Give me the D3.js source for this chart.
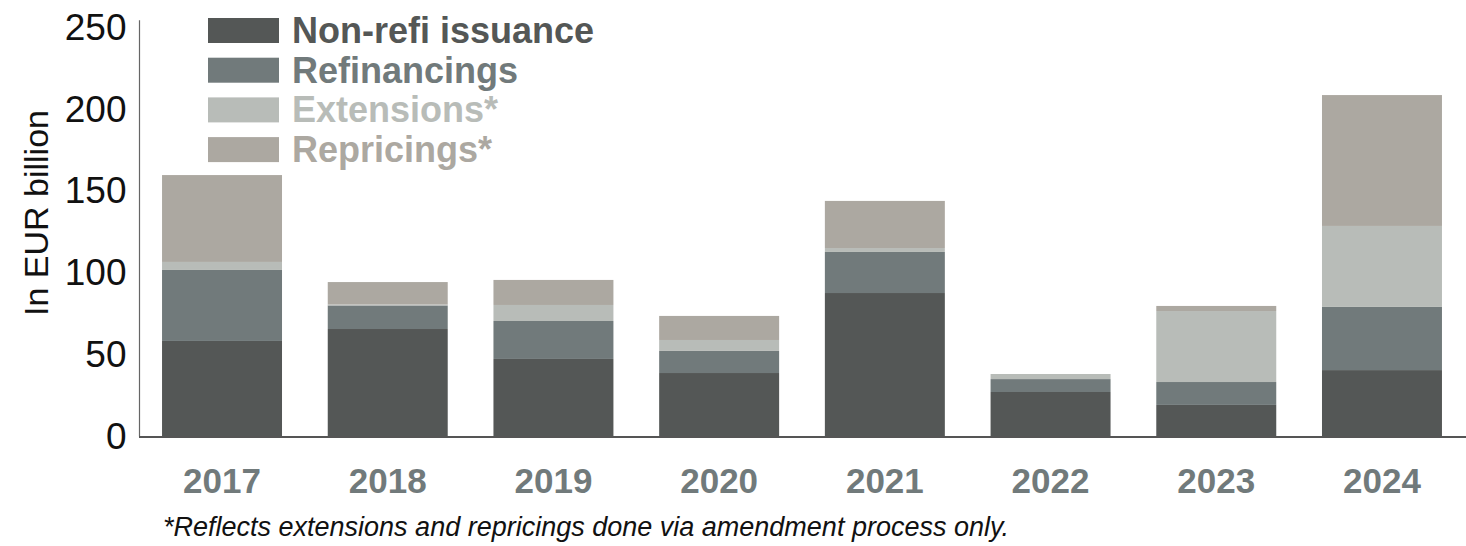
<!DOCTYPE html>
<html>
<head>
<meta charset="utf-8">
<script src="https://cdn.jsdelivr.net/npm/d3@7"></script>
<style>
  body { margin: 0; background: #fff; }
  svg text { font-family: "Liberation Sans", Arial, sans-serif; }
</style>
</head>
<body>
<div id="vis"></div>
<script>

var years = ['2017', '2018', '2019', '2020', '2021', '2022', '2023', '2024'];

var seriesNames = ['Non-refi issuance', 'Refinancings', 'Extensions*', 'Repricings*'];
var seriesColors = ['#545756', '#717a7b', '#b8bcb8', '#aca8a1'];

// EUR billion
var nonRefi      = [58.4, 65.7, 47.4, 38.8, 87.7, 27.2, 19.3, 40.6];
var refinancings = [43.4, 14.4, 23.2, 13.5, 25.1,  7.9, 14.0, 38.6];
var extensions   = [ 4.9,  0.6,  9.8,  6.7,  2.4,  3.1, 43.4, 49.5];
var repricings   = [53.1, 13.7, 15.3, 14.7, 28.8,  0.0,  3.1, 80.0];

var yTicks = [0, 50, 100, 150, 200, 250];

var footnote = '*Reflects extensions and repricings done via amendment process only.';

var width = 1466;
var height = 546;

var rows = years.map(function (yr, i) {
    return {
        year: yr,
        s0: nonRefi[i],
        s1: refinancings[i],
        s2: extensions[i],
        s3: repricings[i]
    };
});

var keys = ['s0', 's1', 's2', 's3'];
var stacked = d3.stack().keys(keys)(rows);

var x = d3.scaleBand()
    .domain(years)
    .range([140, 1464])
    .paddingInner(0.276)
    .paddingOuter(0.133);

var y = d3.scaleLinear()
    .domain([0, 250])
    .range([436.5, 27.5]);

var svg = d3.select('#vis')
    .append('svg')
    .attr('width', width)
    .attr('height', height);

// bars
svg.selectAll('.layer')
    .data(stacked)
    .enter().append('g')
    .attr('class', 'layer')
    .attr('fill', function (d, i) { return seriesColors[i]; })
    .selectAll('rect')
    .data(function (d) { return d; })
    .enter().append('rect')
    .attr('x', function (d) { return x(d.data.year); })
    .attr('width', x.bandwidth())
    .attr('y', function (d) { return y(d[1]); })
    .attr('height', function (d) { return Math.max(0, y(d[0]) - y(d[1])); });

// y axis
var yAxis = svg.append('g')
    .attr('transform', 'translate(139.5,0)')
    .call(d3.axisLeft(y).tickValues(yTicks).tickSize(0).tickPadding(13));

yAxis.select('.domain').remove();
yAxis.selectAll('text')
    .attr('font-size', 37)
    .attr('fill', '#111')
    .attr('font-family', '"Liberation Sans", Arial, sans-serif');

svg.append('line')
    .attr('x1', 139.5).attr('x2', 139.5)
    .attr('y1', y(254.5)).attr('y2', y(0))
    .attr('stroke', '#666')
    .attr('stroke-width', 1.2);

// x axis
var xAxis = svg.append('g')
    .attr('transform', 'translate(0,437)')
    .call(d3.axisBottom(x).tickSize(0).tickPadding(0));

xAxis.select('.domain').remove();
xAxis.selectAll('text')
    .attr('dy', null)
    .attr('y', 56)
    .attr('font-size', 35)
    .attr('font-weight', 'bold')
    .attr('fill', '#717a7b')
    .attr('font-family', '"Liberation Sans", Arial, sans-serif');

svg.append('line')
    .attr('x1', 139).attr('x2', width)
    .attr('y1', 437).attr('y2', 437)
    .attr('stroke', '#555')
    .attr('stroke-width', 2);

// y title
svg.append('text')
    .attr('transform', 'translate(48,213) rotate(-90)')
    .attr('text-anchor', 'middle')
    .attr('font-size', 34)
    .attr('fill', '#111')
    .text('In EUR billion');

// legend
var legend = svg.selectAll('.legend')
    .data(seriesNames)
    .enter().append('g')
    .attr('class', 'legend')
    .attr('transform', function (d, i) { return 'translate(208,' + (18 + i * 39.7) + ')'; });

legend.append('rect')
    .attr('width', 71)
    .attr('height', 25)
    .attr('fill', function (d, i) { return seriesColors[i]; });

legend.append('text')
    .attr('x', 84)
    .attr('y', 25)
    .attr('font-size', 36)
    .attr('font-weight', 'bold')
    .attr('fill', function (d, i) { return seriesColors[i]; })
    .text(function (d) { return d; });

// footnote
svg.append('text')
    .attr('x', 163)
    .attr('y', 536)
    .attr('font-size', 27)
    .attr('font-style', 'italic')
    .attr('fill', '#111')
    .text(footnote);

</script>
</body>
</html>
